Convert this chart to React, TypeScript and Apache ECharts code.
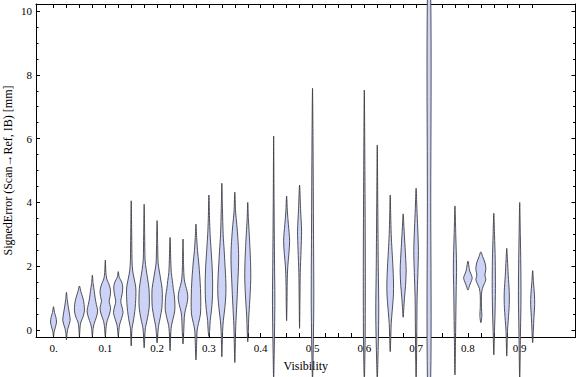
import React, { useEffect, useRef } from "react";
import * as echarts from "echarts";

// Violin positions (Visibility)
const X_POSITIONS = [
  0, 0.025, 0.05, 0.075, 0.1, 0.125, 0.15, 0.175, 0.2, 0.225, 0.25, 0.275,
  0.3, 0.325, 0.35, 0.375, 0.425, 0.45, 0.475, 0.5, 0.6, 0.625, 0.65, 0.675,
  0.7, 0.725, 0.775, 0.8, 0.825, 0.85, 0.875, 0.9, 0.925,
];

// Each violin: [signedError, densityHalfWidth] from bottom to top
const PROFILES = [
  [[-0.2, 0], [-0.05, 0.7], [0.1, 2], [0.25, 3], [0.4, 2.4], [0.55, 1], [0.73, 0]],
  [[-0.31, 0], [-0.1, 0.6], [0.05, 1.5], [0.3, 3.7], [0.5, 3], [0.75, 1.7], [0.95, 0.8], [1.18, 0]],
  [[-0.2, 0], [0.1, 0.7], [0.25, 1.5], [0.4, 3.5], [0.6, 5], [0.8, 4.7], [1.0, 3.5], [1.2, 1.5], [1.38, 0]],
  [[-0.2, 0], [0.05, 0.8], [0.2, 1.8], [0.4, 4], [0.6, 5.3], [0.8, 4], [1.0, 2.8], [1.2, 2], [1.45, 0.8], [1.72, 0]],
  [[-0.2, 0], [0.15, 1], [0.3, 2], [0.5, 4.2], [0.7, 5.3], [0.9, 3.8], [1.05, 4.8], [1.25, 5.2], [1.45, 3.5], [1.6, 1.5], [1.8, 0.6], [2.19, 0]],
  [[-0.2, 0], [0, 0.7], [0.15, 1.2], [0.35, 3.2], [0.55, 4.8], [0.75, 3.5], [0.9, 2.5], [1.15, 4], [1.35, 4.5], [1.5, 3.5], [1.65, 1], [1.83, 0]],
  [[-0.5, 0], [0.05, 0.8], [0.25, 2], [0.45, 3], [0.7, 4], [0.95, 4.5], [1.15, 4.7], [1.35, 4.5], [1.6, 3], [1.85, 1.5], [2.2, 0.8], [3, 0.5], [4.05, 0]],
  [[-0.56, 0], [0, 1], [0.15, 1.8], [0.4, 3.5], [0.7, 5], [1.0, 5.2], [1.3, 4.8], [1.6, 3.5], [1.9, 2], [2.2, 0.9], [3, 0.5], [3.94, 0]],
  [[-0.41, 0], [0, 1], [0.15, 1.6], [0.4, 3.2], [0.7, 4.8], [1.0, 5.2], [1.3, 5], [1.6, 3.5], [1.85, 2.2], [2.1, 1], [2.6, 0.6], [3.43, 0]],
  [[-0.65, 0], [-0.05, 0.8], [0.15, 1.5], [0.35, 3], [0.6, 4.7], [0.85, 4.8], [1.1, 4.2], [1.3, 3.2], [1.55, 2.3], [1.8, 1.2], [2.2, 0.7], [2.9, 0]],
  [[-0.44, 0], [0, 0.8], [0.4, 1.3], [0.6, 2.2], [0.8, 3.8], [1.0, 4.8], [1.2, 4.2], [1.4, 2.5], [1.6, 1.2], [2.0, 0.6], [2.85, 0]],
  [[-0.94, 0], [-0.3, 0.8], [0, 1.2], [0.2, 2.5], [0.5, 4.5], [0.9, 4.8], [1.3, 4.5], [1.7, 3.8], [2.1, 2.8], [2.5, 1.5], [2.9, 0.7], [3.32, 0]],
  [[-0.2, 0], [0, 0.8], [0.3, 1.3], [0.6, 2.5], [1.0, 3.5], [1.5, 3.7], [2.0, 3.2], [2.5, 2.2], [3.0, 1.2], [3.5, 0.6], [4.23, 0]],
  [[-0.84, 0], [0, 0.8], [0.3, 1.5], [0.7, 3], [1.1, 4], [1.5, 4], [2.0, 3.2], [2.5, 2.3], [3.0, 1.3], [3.8, 0.6], [4.6, 0]],
  [[-1.02, 0], [-0.3, 0.6], [0.1, 0.9], [0.5, 1.5], [1.0, 2.3], [1.5, 3], [2.0, 3.7], [2.4, 3.8], [2.9, 3], [3.3, 2], [3.7, 0.8], [4.32, 0]],
  [[-0.37, 0], [0, 0.6], [0.4, 1], [0.8, 1.8], [1.2, 2.5], [1.6, 3], [2.0, 2.9], [2.5, 2.3], [3.0, 1.5], [3.5, 0.6], [4.0, 0]],
  [[-1.6, 0], [-1, 0.4], [0, 0.9], [1, 1.2], [2, 0.9], [4, 0.4], [6.08, 0]],
  [[0.29, 0], [0.9, 0.4], [1.5, 0.6], [2.0, 1.2], [2.4, 2.3], [2.8, 3], [3.3, 1.8], [3.7, 0.8], [4.2, 0]],
  [[0.05, 0], [1, 0.4], [1.8, 0.7], [2.5, 1.5], [3.1, 2], [3.8, 1], [4.54, 0]],
  [[-1.6, 0], [-1, 0.5], [0, 1], [1, 1.3], [3, 1], [6, 0.5], [7.58, 0]],
  [[-1.6, 0], [-1, 0.5], [0, 0.9], [2, 1], [5, 0.6], [7.52, 0]],
  [[-1.6, 0], [-1, 0.6], [0.5, 1.5], [2, 1], [4, 0.5], [5.8, 0]],
  [[-0.68, 0], [-0.2, 0.6], [0.2, 1], [0.6, 2], [1.1, 3.2], [1.5, 3.3], [2.0, 2.7], [2.5, 1.8], [3.0, 1], [3.6, 0.5], [4.23, 0]],
  [[0.4, 0], [0.7, 0.7], [1.0, 1.3], [1.4, 2.4], [1.85, 3], [2.2, 2.6], [2.7, 1.7], [3.2, 0.8], [3.64, 0]],
  [[-1.6, 0], [-1, 0.4], [0, 0.7], [1, 1], [1.8, 1.8], [2.5, 2.3], [3.2, 1.6], [3.8, 0.8], [4.44, 0]],
  [[-1.6, 1.6], [4, 1.7], [10.6, 1.6]],
  [[-1.41, 0], [0, 0.7], [1.2, 1.2], [2.0, 1.6], [3.0, 0.8], [3.89, 0]],
  [[1.25, 0], [1.38, 1.5], [1.5, 3], [1.62, 4.3], [1.72, 3.5], [1.85, 1.8], [2.0, 1], [2.16, 0]],
  [[0.23, 0], [0.45, 1], [0.7, 0.6], [1.1, 0.6], [1.3, 1.5], [1.45, 3.5], [1.58, 5], [1.72, 4], [1.9, 5], [2.1, 4.2], [2.3, 1.8], [2.45, 0]],
  [[-0.78, 0], [0, 0.7], [0.5, 1.2], [1.3, 1.6], [2.2, 1.4], [3, 0.7], [3.66, 0]],
  [[-0.82, 0], [0, 0.8], [0.3, 1.5], [0.8, 2.5], [1.2, 2.5], [1.7, 1.5], [2.2, 0.7], [2.56, 0]],
  [[-1.6, 0], [0, 0.8], [1, 1.3], [2, 1.1], [3, 0.6], [4.0, 0]],
  [[-0.4, 0], [0, 0.7], [0.4, 1.3], [0.8, 2], [1.1, 1.8], [1.5, 0.8], [1.86, 0]],
];

const X_TICKS = [
  0, 0.025, 0.05, 0.075, 0.1, 0.125, 0.15, 0.175, 0.2, 0.225, 0.25, 0.275,
  0.3, 0.325, 0.35, 0.375, 0.4, 0.425, 0.45, 0.475, 0.5, 0.525, 0.55, 0.575,
  0.6, 0.625, 0.65, 0.675, 0.7, 0.725, 0.75, 0.775, 0.8, 0.825, 0.85, 0.875,
  0.9, 0.925,
];
const X_LABEL_VALUES = [0, 0.1, 0.2, 0.3, 0.4, 0.5, 0.6, 0.7, 0.8, 0.9];
const X_LABEL_TEXT = ["0.", "0.1", "0.2", "0.3", "0.4", "0.5", "0.6", "0.7", "0.8", "0.9"];
const Y_MAJOR_TICKS = [0, 2, 4, 6, 8, 10];
const Y_MINOR_TICKS = [0.5, 1, 1.5, 2.5, 3, 3.5, 4.5, 5, 5.5, 6.5, 7, 7.5, 8.5, 9, 9.5];

const X_MIN = -0.0338;
const X_MAX = 1.0077;
const Y_MIN = -0.22;
const Y_MAX = 10.22;

const WIDTH_SCALE = 1; // px per density unit
const FILL = "rgb(204,211,246)";
const STROKE = "rgba(55,55,60,0.85)";
const FONT = "Liberation Serif";

export default function App() {
  const ref = useRef<HTMLDivElement>(null);

  useEffect(() => {
    if (!ref.current) return;
    const chart = echarts.init(ref.current, undefined, { renderer: "svg" });

    const lineStyle = { color: "#000", width: 1 };
    const gridRect = {
      left: 36,
      top: 4,
      width: 539.5,
      height: 333,
      containLabel: false,
      outerBoundsMode: "none",
    };
    const xCommon = {
      type: "value",
      min: X_MIN,
      max: X_MAX,
      splitLine: { show: false },
      axisLine: { show: true, onZero: false, lineStyle },
      axisTick: { show: true, inside: true, length: 4, customValues: X_TICKS, lineStyle },
    };
    const yCommon = {
      type: "value",
      min: Y_MIN,
      max: Y_MAX,
      splitLine: { show: false },
    };

    const option: any = {
      animation: false,
      grid: [{ ...gridRect }, { ...gridRect }],
      xAxis: [
        {
          ...xCommon,
          gridIndex: 0,
          position: "bottom",
          axisLabel: {
            customValues: X_LABEL_VALUES,
            formatter: (v: number) => {
              const idx = X_LABEL_VALUES.findIndex((t) => Math.abs(t - v) < 1e-9);
              return idx >= 0 ? X_LABEL_TEXT[idx] : "";
            },
            margin: 5,
            fontFamily: FONT,
            fontSize: 11,
            color: "#000",
          },
          name: "Visibility",
          nameLocation: "middle",
          nameGap: 23,
          nameMoveOverlap: false,
          nameTextStyle: { fontFamily: FONT, fontSize: 12, color: "#000" },
        },
        {
          ...xCommon,
          gridIndex: 0,
          position: "top",
          axisLabel: { show: false },
        },
        {
          type: "value",
          gridIndex: 1,
          min: X_MIN,
          max: X_MAX,
          show: false,
          axisLine: { show: false, onZero: false },
        },
      ],
      yAxis: [
        {
          ...yCommon,
          gridIndex: 0,
          position: "left",
          axisLine: { show: true, onZero: false, lineStyle },
          axisTick: { show: true, inside: true, length: 4, customValues: Y_MAJOR_TICKS, lineStyle },
          axisLabel: {
            customValues: Y_MAJOR_TICKS,
            margin: 4,
            fontFamily: FONT,
            fontSize: 11,
            color: "#000",
          },
          name: "SignedError (Scan\u2192Ref, IB) [mm]",
          nameLocation: "middle",
          nameGap: 22,
          nameMoveOverlap: false,
          nameTextStyle: { fontFamily: FONT, fontSize: 12, color: "#000" },
        },
        {
          ...yCommon,
          gridIndex: 0,
          position: "right",
          axisLine: { show: true, onZero: false, lineStyle },
          axisTick: { show: true, inside: true, length: 4, customValues: Y_MAJOR_TICKS, lineStyle },
          axisLabel: { show: false },
        },
        {
          ...yCommon,
          gridIndex: 1,
          position: "left",
          axisLine: { show: false, onZero: false },
          axisTick: { show: true, inside: true, length: 2.5, customValues: Y_MINOR_TICKS, lineStyle },
          axisLabel: { show: false },
        },
        {
          ...yCommon,
          gridIndex: 1,
          position: "right",
          axisLine: { show: false, onZero: false },
          axisTick: { show: true, inside: true, length: 2.5, customValues: Y_MINOR_TICKS, lineStyle },
          axisLabel: { show: false },
        },
      ],
      series: [
        {
          type: "custom",
          xAxisIndex: 0,
          yAxisIndex: 0,
          clip: false,
          z: 10,
          data: X_POSITIONS.map((x) => [x, 0]),
          renderItem: (params: any, api: any) => {
            const i = params.dataIndex;
            const x = X_POSITIONS[i];
            const prof = PROFILES[i];
            const left: number[][] = [];
            const right: number[][] = [];
            prof.forEach(([y, w]) => {
              const p = api.coord([x, y]);
              left.push([p[0] - w * WIDTH_SCALE, p[1]]);
              right.push([p[0] + w * WIDTH_SCALE, p[1]]);
            });
            const pts = [...left];
            for (let k = right.length - 1; k >= 0; k--) {
              if (prof[k][1] === 0) continue;
              pts.push(right[k]);
            }
            return {
              type: "polygon",
              shape: { points: pts, smooth: 0.3 },
              style: { fill: FILL, stroke: STROKE, lineWidth: 1 },
            };
          },
        },
      ],
    };

    chart.setOption(option);
    return () => chart.dispose();
  }, []);

  return (
    <div
      ref={ref}
      style={{ position: "fixed", left: 0, top: 0, width: 576, height: 377, background: "#fff" }}
    />
  );
}
